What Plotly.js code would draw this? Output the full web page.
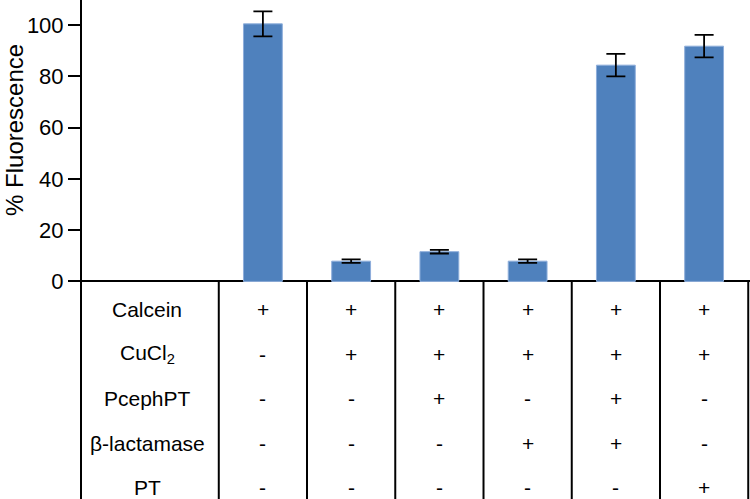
<!DOCTYPE html>
<html>
<head>
<meta charset="utf-8">
<script src="https://cdn.plot.ly/plotly-3.0.1.min.js"></script>
<style>
  html, body { margin: 0; padding: 0; background: #fff; }
  #chart { width: 750px; height: 499px; }
</style>
</head>
<body>
<div id="chart"></div>
<script>
// % fluorescence per condition, with treatment table underneath
const groups = [1, 2, 3, 4, 5, 6];
const fluorescence = [100.4, 7.9, 11.6, 7.9, 84.3, 91.7];
const errors = [4.9, 0.7, 0.7, 0.7, 4.4, 4.4];
const yTicks = [0, 20, 40, 60, 80, 100];

const treatments = ['Calcein', 'CuCl<sub>2</sub>', 'PcephPT', 'β-lactamase', 'PT'];
const calcein = ['+', '+', '+', '+', '+', '+'];
const cucl2 = ['-', '+', '+', '+', '+', '+'];
const pcephpt = ['-', '-', '+', '-', '+', '-'];
const lactamase = ['-', '-', '-', '+', '+', '-'];
const pt = ['-', '-', '-', '-', '-', '+'];
const table = [calcein, cucl2, pcephpt, lactamase, pt];

const FONT = 'Arial, "Liberation Sans", sans-serif';
const rowY = i => -11.1 - 17.35 * i;   // table rows live below zero on the y axis
const yBottom = -84.8;

const annotations = [];
treatments.forEach((t, i) => {
  annotations.push({ x: -0.31, y: rowY(i), xref: 'x', yref: 'y', text: t, showarrow: false,
    xanchor: 'center', yanchor: 'middle', font: { family: FONT, size: 21, color: '#000' } });
  table[i].forEach((s, j) => {
    annotations.push({ x: groups[j], y: rowY(i), xref: 'x', yref: 'y', text: s, showarrow: false,
      xanchor: 'center', yanchor: 'middle', font: { family: FONT, size: 21, color: '#000' } });
  });
});
annotations.push({ x: -0.102, y: 59, xref: 'paper', yref: 'y', text: '% Fluorescence',
  textangle: -90, showarrow: false, xanchor: 'center', yanchor: 'middle',
  font: { family: FONT, size: 24, color: '#000' } });

// column dividers
const shapes = [0.5].concat(groups.map(g => g + 0.5)).map(x => ({
  type: 'line', xref: 'x', yref: 'y', x0: x, x1: x, y0: 0, y1: yBottom,
  line: { color: '#000', width: 2 } }));

Plotly.newPlot('chart', [{
  type: 'bar', x: groups, y: fluorescence, width: 0.44,
  marker: { color: '#4f81bd', line: { color: '#8eaedb', width: 1 } },
  error_y: { type: 'data', array: errors, visible: true, color: '#000', thickness: 1.8, width: 9.5 },
  hoverinfo: 'y',
}], {
  width: 750, height: 499,
  margin: { l: 82, r: 0, t: 0, b: 0 },
  paper_bgcolor: '#fff', plot_bgcolor: '#fff',
  showlegend: false,
  font: { family: FONT, color: '#000' },
  xaxis: { range: [-1.05, 6.52], showgrid: false, zeroline: false, showline: false,
    showticklabels: false, ticks: '' },
  yaxis: { range: [yBottom, 109.7], tickvals: yTicks, ticktext: yTicks.map(String),
    showgrid: false, showline: true, linecolor: '#000', linewidth: 2,
    zeroline: true, zerolinecolor: '#000', zerolinewidth: 2,
    ticks: 'outside', ticklen: 12, tickwidth: 2, tickcolor: '#000',
    tickfont: { family: FONT, size: 22, color: '#000' } },
  shapes, annotations,
}, { displayModeBar: false, staticPlot: true });
</script>
</body>
</html>
